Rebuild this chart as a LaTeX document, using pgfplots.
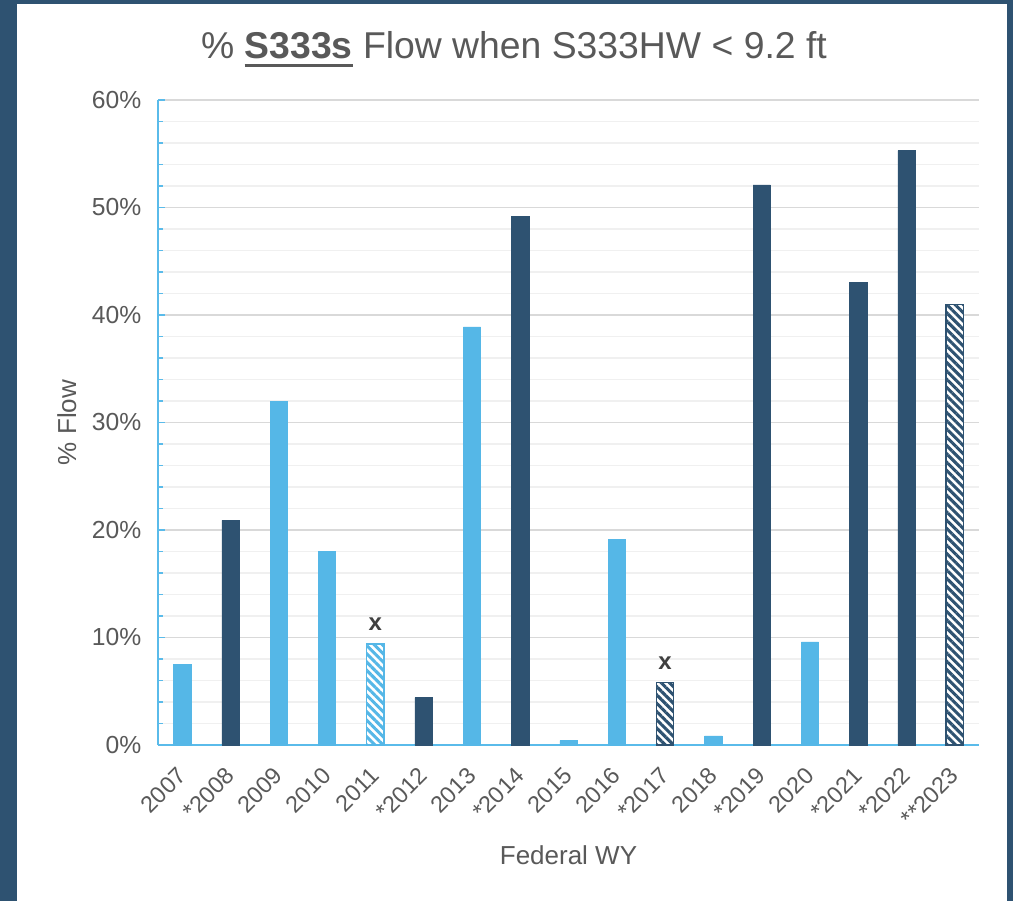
\documentclass[border=0pt]{standalone}
\usepackage{fontspec}
\setmainfont{Liberation Sans}
\usepackage{pgfplots}
\pgfplotsset{compat=1.18}
\usetikzlibrary{patterns.meta}

\definecolor{frameblue}{HTML}{2E5271}
\definecolor{darkbar}{HTML}{2E5271}
\definecolor{lightbar}{HTML}{55B7E7}
\definecolor{txtgray}{HTML}{595959}
\definecolor{axblue}{HTML}{5ABBEA}
\definecolor{majgrid}{HTML}{D9D9D9}
\definecolor{mingrid}{HTML}{F0F0F0}

\newcommand\ul[1]{\setbox0\hbox{#1}\rlap{\rule[-6pt]{\wd0}{2.3pt}}\box0\relax}

\begin{document}
\begin{tikzpicture}[x=0.75pt,y=0.75pt]
\fill[frameblue] (0,0) rectangle (1013,901);
\fill[white] (17,0) rectangle (1007,897);
\node[anchor=base, text=txtgray, font=\fontsize{28}{33}\selectfont]
  at (514,842) {\% \ul{\textbf{S333s}} Flow when S333HW < 9.2 ft};
\begin{axis}[
  at={(118.5pt,117pt)}, anchor=south west,
  scale only axis, width=615.75pt, height=483.75pt,
  xmin=-0.5, xmax=16.5, ymin=0, ymax=60,
  axis x line=bottom, axis y line=left,
  axis line style={axblue, line width=1.5pt, -},
  xtick={0,...,16},
  xticklabels={2007,*2008,2009,2010,2011,*2012,2013,*2014,2015,2016,*2017,2018,*2019,2020,*2021,*2022,**2023},
  x tick style={draw=none},
  xticklabel style={rotate=45, anchor=north east, text=txtgray,
    font=\fontsize{17.5}{21}\selectfont, xshift=-7.2pt, yshift=-0.6pt},
  ytick={0,10,...,60},
  minor y tick num=4,
  yticklabel={\pgfmathprintnumber{\tick}\%},
  /pgf/number format/assume math mode=true,
  yticklabel style={text=txtgray, font=\fontsize{18.5}{21}\selectfont, xshift=-9pt},
  y tick style={axblue, line width=1.2pt},
  tick align=inside,
  major tick length=5.25pt, minor tick length=3.75pt,
  ymajorgrids, yminorgrids,
  major grid style={majgrid, line width=1pt},
  minor grid style={mingrid, line width=0.9pt},
  xlabel={Federal WY}, ylabel={\% Flow},
  xlabel style={at={(axis description cs:0.5,-0.171)}, anchor=center,
    text=txtgray, font=\fontsize{19.5}{23}\selectfont},
  ylabel style={at={(axis description cs:-0.111,0.5)}, anchor=center, rotate=0,
    text=txtgray, font=\fontsize{19.5}{23}\selectfont},
  ybar, bar width=13pt,
  clip=false,
]
\addplot[bar shift=0pt, fill=lightbar, draw=lightbar] coordinates {
  (0,7.5) (2,32.0) (3,18.0) (6,38.9) (8,0.4) (9,19.1) (11,0.85) (13,9.6)
};
\addplot[bar shift=0pt, fill=darkbar, draw=darkbar] coordinates {
  (1,20.9) (5,4.4) (7,49.2) (12,52.1) (14,43.0) (15,55.3)
};
\addplot[bar shift=0pt, draw=lightbar, line width=1.1pt, fill=white,
  postaction={pattern={Lines[angle=-45,distance=4.4pt,line width=2.3pt]}, pattern color=lightbar},
  point meta=explicit symbolic, nodes near coords,
  every node near coord/.append style={font=\fontsize{18}{21}\selectfont\bfseries, text=black!75, anchor=south, yshift=6pt}]
  coordinates { (4,9.4) [x] };
\addplot[bar shift=0pt, draw=darkbar, line width=1.1pt, fill=white,
  postaction={pattern={Lines[angle=-45,distance=4.4pt,line width=2.3pt]}, pattern color=darkbar},
  point meta=explicit symbolic, nodes near coords,
  every node near coord/.append style={font=\fontsize{18}{21}\selectfont\bfseries, text=black!75, anchor=south, yshift=6pt}]
  coordinates { (10,5.8) [x] (16,41.0) [] };
\end{axis}
\end{tikzpicture}
\end{document}
